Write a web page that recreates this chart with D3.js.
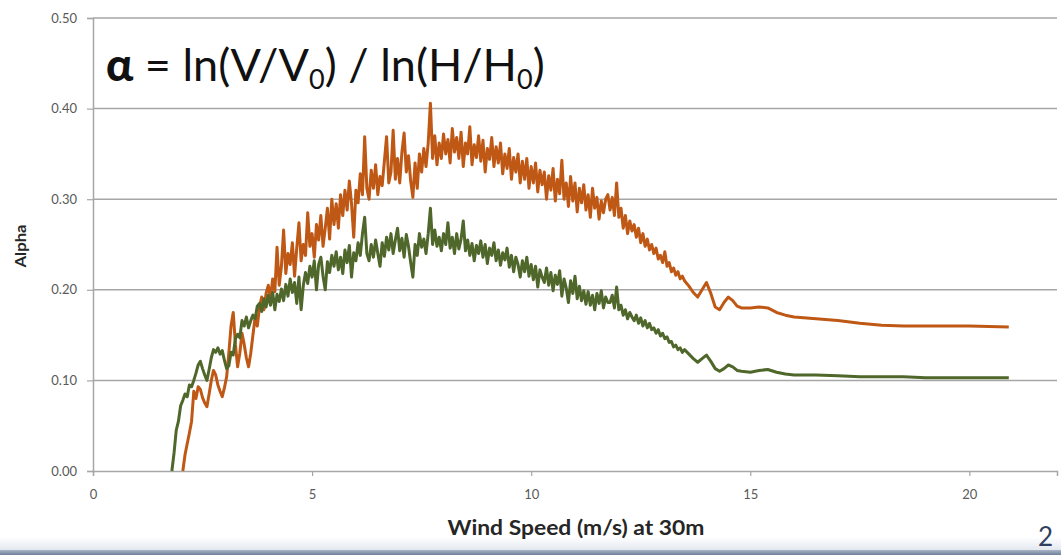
<!DOCTYPE html>
<html>
<head>
<meta charset="utf-8">
<script src="https://cdnjs.cloudflare.com/ajax/libs/d3/7.8.5/d3.min.js"></script>
<style>
  html, body { margin: 0; padding: 0; background: #ffffff; }
  svg { display: block; }
</style>
</head>
<body>
<svg id="chart" width="1061" height="555"></svg>
<script>
// ---------------- DATA ----------------
const xTicks = [0, 5, 10, 15, 20];
const yTicks = [0.00, 0.10, 0.20, 0.30, 0.40, 0.50];
const xTitle = "Wind Speed (m/s) at 30m";
const yTitle = "Alpha";

// noisy part: wind-speed bins of 0.05 m/s starting at 1.80 m/s
const binStart = 1.80, binWidth = 0.05;

// green series (lower)
const greenNoisy = [
  0.000, 0.020, 0.045, 0.055, 0.072, 0.078, 0.085, 0.082, 0.095, 0.093,
  0.100, 0.108, 0.117, 0.121, 0.113, 0.106, 0.100, 0.112, 0.125, 0.134,
  0.131, 0.136, 0.129, 0.133, 0.122, 0.113, 0.116, 0.131, 0.128, 0.146,
  0.151, 0.147, 0.166, 0.160, 0.170, 0.158, 0.166, 0.172, 0.168, 0.182,
  0.185, 0.176, 0.190, 0.181, 0.194, 0.183, 0.197, 0.178, 0.195, 0.187,
  0.201, 0.188, 0.206, 0.193, 0.212, 0.197, 0.208, 0.185, 0.214, 0.178,
  0.205, 0.219, 0.207, 0.226, 0.214, 0.232, 0.200, 0.228, 0.236, 0.215,
  0.200, 0.231, 0.219, 0.238, 0.226, 0.242, 0.222, 0.236, 0.218, 0.244,
  0.230, 0.249, 0.214, 0.241, 0.232, 0.252, 0.238, 0.262, 0.280, 0.240,
  0.232, 0.250, 0.236, 0.255, 0.240, 0.226, 0.252, 0.237, 0.258, 0.244,
  0.262, 0.240, 0.255, 0.268, 0.243, 0.257, 0.236, 0.261, 0.248, 0.230,
  0.214, 0.250, 0.238, 0.262, 0.247, 0.256, 0.240, 0.262, 0.290, 0.250,
  0.266, 0.248, 0.258, 0.243, 0.262, 0.250, 0.274, 0.246, 0.258, 0.240,
  0.262, 0.245, 0.256, 0.276, 0.243, 0.255, 0.238, 0.251, 0.232, 0.249,
  0.240, 0.254, 0.236, 0.250, 0.229, 0.246, 0.238, 0.252, 0.232, 0.244,
  0.227, 0.241, 0.233, 0.246, 0.225, 0.238, 0.220, 0.236, 0.228, 0.214,
  0.232, 0.220, 0.236, 0.215, 0.228, 0.211, 0.226, 0.203, 0.222, 0.214,
  0.208, 0.224, 0.205, 0.219, 0.199, 0.216, 0.206, 0.221, 0.193, 0.212,
  0.202, 0.186, 0.210, 0.196, 0.215, 0.190, 0.204, 0.188, 0.199, 0.184,
  0.198, 0.183, 0.194, 0.178, 0.196, 0.185, 0.199, 0.180, 0.192, 0.186,
  0.186, 0.194, 0.180, 0.203, 0.178, 0.183, 0.172, 0.178, 0.168, 0.175,
  0.170, 0.166, 0.172, 0.163, 0.169, 0.160, 0.166, 0.158, 0.163, 0.156,
  0.158, 0.152, 0.156, 0.149, 0.152, 0.146, 0.148, 0.142, 0.143, 0.137,
  0.139, 0.134, 0.136, 0.131, 0.134
];

// orange series (upper); starts at 2.05 m/s
const orangeNoisy = [
  null,  null,  null,  null,  null,  0.000, 0.018, 0.030, 0.042, 0.055,
  0.088, 0.080, 0.093, 0.090, 0.081, 0.075, 0.071, 0.085, 0.100, 0.111,
  0.106, 0.095, 0.088, 0.082, 0.092, 0.104, 0.130, 0.160, 0.175, 0.140,
  0.115, 0.130, 0.152, 0.140, 0.125, 0.115, 0.130, 0.150, 0.170, 0.160,
  0.181, 0.192, 0.178, 0.196, 0.205, 0.190, 0.212, 0.198, 0.247, 0.205,
  0.226, 0.266, 0.218, 0.240, 0.228, 0.252, 0.215, 0.246, 0.274, 0.232,
  0.250, 0.238, 0.285, 0.248, 0.262, 0.236, 0.272, 0.255, 0.282, 0.248,
  0.268, 0.290, 0.256, 0.300, 0.272, 0.295, 0.268, 0.305, 0.282, 0.310,
  0.288, 0.320, 0.295, 0.258, 0.310, 0.296, 0.328, 0.305, 0.369, 0.312,
  0.300, 0.332, 0.312, 0.338, 0.305, 0.325, 0.315, 0.342, 0.369, 0.318,
  0.330, 0.376, 0.322, 0.345, 0.318, 0.352, 0.373, 0.330, 0.348, 0.320,
  0.302, 0.340, 0.312, 0.350, 0.330, 0.356, 0.336, 0.362, 0.406, 0.345,
  0.370, 0.338, 0.362, 0.345, 0.372, 0.350, 0.366, 0.340, 0.378, 0.352,
  0.368, 0.345, 0.374, 0.336, 0.362, 0.350, 0.380, 0.338, 0.360, 0.346,
  0.370, 0.342, 0.365, 0.330, 0.356, 0.344, 0.368, 0.336, 0.358, 0.340,
  0.362, 0.328, 0.350, 0.334, 0.356, 0.322, 0.346, 0.330, 0.350, 0.318,
  0.342, 0.322, 0.345, 0.312, 0.336, 0.318, 0.340, 0.308, 0.332, 0.316,
  0.330, 0.300, 0.326, 0.310, 0.334, 0.298, 0.322, 0.306, 0.343, 0.300,
  0.318, 0.292, 0.325, 0.298, 0.318, 0.286, 0.312, 0.296, 0.316, 0.288,
  0.305, 0.280, 0.312, 0.290, 0.302, 0.278, 0.298, 0.285, 0.300, 0.305,
  0.288, 0.302, 0.282, 0.318, 0.280, 0.290, 0.268, 0.282, 0.262, 0.276,
  0.265, 0.272, 0.258, 0.268, 0.252, 0.262, 0.248, 0.256, 0.244, 0.250,
  0.240, 0.246, 0.234, 0.238, 0.230, 0.242, 0.226, 0.230, 0.220, 0.224,
  0.216, 0.220, 0.212, 0.215, 0.210
];

// smooth tail (explicit wind speeds)
const tailSpeed  = [13.6, 13.7, 13.8, 13.9, 14.0, 14.1, 14.2, 14.3, 14.4, 14.5, 14.6, 14.7, 14.8, 15.0, 15.2, 15.4, 15.6, 15.8, 16.0, 16.5, 17.0, 17.5, 18.0, 18.5, 19.0, 20.0, 20.9];
const greenTail  = [0.129, 0.124, 0.120, 0.124, 0.128, 0.121, 0.113, 0.110, 0.113, 0.117, 0.115, 0.111, 0.110, 0.109, 0.111, 0.112, 0.109, 0.107, 0.106, 0.106, 0.105, 0.104, 0.104, 0.104, 0.103, 0.103, 0.103];
const orangeTail = [0.204, 0.197, 0.192, 0.200, 0.208, 0.196, 0.181, 0.178, 0.186, 0.192, 0.188, 0.182, 0.180, 0.180, 0.181, 0.180, 0.175, 0.172, 0.170, 0.168, 0.166, 0.163, 0.161, 0.160, 0.160, 0.160, 0.159];

const seriesColors = { orange: "#bf5815", green: "#4f672a" };

// ---------------- LAYOUT ----------------
const svg = d3.select("#chart");
const W = 1061, H = 555;
const plot = { left: 93, right: 1057, top: 18, bottom: 471 };
const FONT = "Lato, 'Open Sans', 'Liberation Sans', sans-serif";

const x = d3.scaleLinear().domain([0, 22]).range([plot.left, plot.right]);
const y = d3.scaleLinear().domain([0, 0.5]).range([plot.bottom, plot.top]);

function buildSeries(noisy, tail) {
  const pts = noisy.map((v, i) => ({ x: binStart + i * binWidth, y: v }));
  tailSpeed.forEach((s, i) => pts.push({ x: s, y: tail[i] }));
  return pts;
}
const greenData = buildSeries(greenNoisy, greenTail);
const orangeData = buildSeries(orangeNoisy, orangeTail);

svg.append("rect").attr("width", W).attr("height", H).attr("fill", "#ffffff");

// bottom slide edge
const defs = svg.append("defs");
const g1 = defs.append("linearGradient").attr("id", "edge").attr("x1", 0).attr("y1", 0).attr("x2", 0).attr("y2", 1);
g1.append("stop").attr("offset", "0%").attr("stop-color", "#ffffff");
g1.append("stop").attr("offset", "100%").attr("stop-color", "#e3e8ef");
const g2 = defs.append("linearGradient").attr("id", "edge2").attr("x1", 0).attr("y1", 0).attr("x2", 0).attr("y2", 1);
g2.append("stop").attr("offset", "0%").attr("stop-color", "#aab5c6");
g2.append("stop").attr("offset", "100%").attr("stop-color", "#6f7f99");
svg.append("rect").attr("x", 0).attr("y", 537).attr("width", W).attr("height", 13).attr("fill", "url(#edge)");
svg.append("rect").attr("x", 0).attr("y", 550).attr("width", W).attr("height", 5).attr("fill", "url(#edge2)");

// gridlines
svg.append("g")
  .selectAll("line")
  .data(yTicks.filter(t => t > 0))
  .join("line")
  .attr("x1", plot.left).attr("x2", plot.right)
  .attr("y1", d => y(d)).attr("y2", d => y(d))
  .attr("stroke", "#a6a6a6").attr("stroke-width", 1.5);

// Y axis
const yAxis = svg.append("g")
  .attr("transform", `translate(${plot.left},0)`)
  .call(d3.axisLeft(y).tickValues(yTicks).tickFormat(d3.format(".2f")).tickSize(6).tickPadding(10));
yAxis.select(".domain").attr("stroke", "#a6a6a6").attr("stroke-width", 1.5);
yAxis.selectAll(".tick line").attr("stroke", "#a6a6a6").attr("stroke-width", 1.2);
yAxis.selectAll(".tick text").attr("fill", "#595959").style("font-family", FONT).style("font-size", "13px");

// X axis
const xAxis = svg.append("g")
  .attr("transform", `translate(0,${plot.bottom})`)
  .call(d3.axisBottom(x).tickValues(xTicks).tickFormat(d3.format("d")).tickSize(5).tickPadding(14));
xAxis.select(".domain").attr("stroke", "#a6a6a6").attr("stroke-width", 1.5);
xAxis.selectAll(".tick line").attr("stroke", "#a6a6a6").attr("stroke-width", 1.2);
xAxis.selectAll(".tick text").attr("fill", "#595959").style("font-family", FONT).style("font-size", "13px");

// lines
const line = d3.line()
  .defined(d => d.y !== null)
  .x(d => x(d.x)).y(d => y(d.y));

svg.append("path").datum(orangeData)
  .attr("d", line).attr("fill", "none")
  .attr("stroke", seriesColors.orange).attr("stroke-width", 3)
  .attr("stroke-linejoin", "round");
svg.append("path").datum(greenData)
  .attr("d", line).attr("fill", "none")
  .attr("stroke", seriesColors.green).attr("stroke-width", 3)
  .attr("stroke-linejoin", "round");

// axis titles
svg.append("text")
  .attr("x", 576).attr("y", 535)
  .attr("text-anchor", "middle")
  .attr("textLength", 257).attr("lengthAdjust", "spacingAndGlyphs")
  .style("font-family", FONT).style("font-weight", "bold").style("font-size", "20px")
  .attr("fill", "#262626")
  .text(xTitle);

svg.append("text")
  .attr("transform", "translate(26,246) rotate(-90)")
  .attr("text-anchor", "middle")
  .attr("textLength", 43).attr("lengthAdjust", "spacingAndGlyphs")
  .style("font-family", FONT).style("font-weight", "bold").style("font-size", "15px")
  .attr("fill", "#262626")
  .text(yTitle);

// formula
const f = svg.append("text")
  .attr("x", 106).attr("y", 81)
  .style("font-family", FONT).style("font-size", "45px")
  .attr("fill", "#111111");
f.append("tspan").style("font-weight", "900").text("α");
f.append("tspan").text(" = ln(V/V");
f.append("tspan").attr("dy", 8).style("font-size", "27px").text("0");
f.append("tspan").attr("dy", -8).text(") / ln(H/H");
f.append("tspan").attr("dy", 8).style("font-size", "27px").text("0");
f.append("tspan").attr("dy", -8).text(")");

// slide number at the slide edge
svg.append("text")
  .attr("x", 1038).attr("y", 546)
  .style("font-family", FONT).style("font-size", "26px")
  .attr("fill", "#2f3f62")
  .text("2");
</script>
</body>
</html>
